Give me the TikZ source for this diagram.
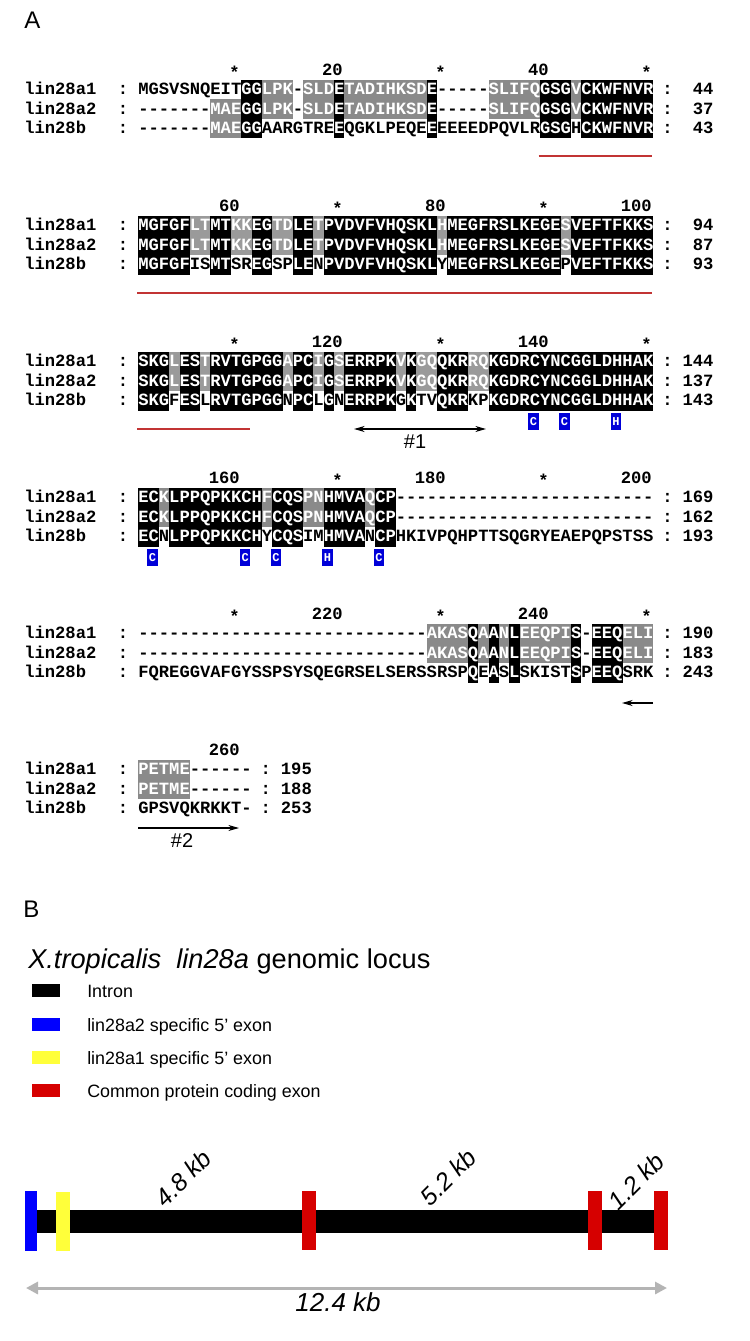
\documentclass[tikz,border=0pt]{standalone}
\usepackage{fontspec}
\setmainfont{Liberation Sans}
\setmonofont{Liberation Mono}
\usetikzlibrary{arrows.meta}
\definecolor{shadeA}{HTML}{8A8A8A}
\definecolor{shadeB}{HTML}{9A9A9A}
\definecolor{domline}{HTML}{C23434}
\definecolor{zinc}{HTML}{0000D8}
\definecolor{exblue}{HTML}{0000FF}
\definecolor{exyellow}{HTML}{FFFF3A}
\definecolor{exred}{HTML}{D60000}
\definecolor{spangrey}{HTML}{B4B4B4}
\def\seqx{137}\def\colw{10.3}
\def\runb{b}\def\rung{g}
\newcommand\hstar{\raisebox{-2pt}{*}}
\tikzset{
  seqtext/.style={font=\ttfamily\bfseries\fontsize{12.875}{14}\selectfont,inner sep=0pt},
  seqrun/.style={seqtext,anchor=base west,outer sep=0pt,text height=11.1pt,text depth=3.6pt},
  zincbox/.style={fill=zinc,text=white,inner sep=0pt,minimum width=7.8pt,minimum height=12.2pt,
    font=\ttfamily\bfseries\fontsize{9}{9}\selectfont},
  motif/.style={line width=0.8pt},
  mtip/.tip={Stealth[length=8pt,width=4.5pt]},
  spantip/.tip={Triangle[length=9pt,width=9pt]},
  kb/.style={font=\itshape\fontsize{18.5}{20}\selectfont,inner sep=0pt}
}
\newcommand\alnhead[2]{%
  \foreach \cc/\tt in {#2}
    \node[seqtext,anchor=base east] at ({\seqx+\cc*\colw},#1+5) {\tt};}
\newcommand\alnrow[4]{%
  \node[seqtext,anchor=base west] at (24,#1+5) {#2};
  \node[seqtext,anchor=base] at (123,#1+5) {:};
  \node[inner sep=0pt,outer sep=0pt,anchor=base west] (r) at (\seqx,#1+5) {};
  \foreach \kind/\txt in {#3}{
    \ifx\kind\runb\def\fc{black}\def\tc{white}\else
      \ifx\kind\rung\def\fc{\gcol}\def\tc{white}\else\def\fc{white}\def\tc{black}\fi\fi
    \node[seqrun,fill=\fc,text=\tc] (r) at (r.base east) {\txt};}
  \node[seqtext,anchor=base] at (\rcolon,#1+5) {:};
  \node[seqtext,anchor=base east] at (\rnum,#1+5) {#4};}
\begin{document}
\begin{tikzpicture}[x=0.75pt,y=-0.75pt]
\fill[white] (0,0) rectangle (749,1341);
\useasboundingbox (0,0) rectangle (749,1341);
\node[anchor=base west,inner sep=0pt,font=\fontsize{18}{18}\selectfont] (labA) at (24,28.5) {A};

\def\gcol{shadeA}\def\rcolon{667.45}\def\rnum{713.8}
\alnhead{70.5}{10/\hstar,20/20,30/\hstar,40/40,50/\hstar}
\alnrow{89.5}{lin28a1}{n/MGSVSNQEIT,b/GG,g/LPK,n/-,g/SLD,b/E,g/TADIHKSD,b/E,n/-----,g/SLIFQ,b/GSG,g/V,b/CKWFNVR}{44}
\alnrow{109.1}{lin28a2}{n/-------,g/MAE,b/GG,g/LPK,n/-,g/SLD,b/E,g/TADIHKSD,b/E,n/-----,g/SLIFQ,b/GSG,g/V,b/CKWFNVR}{37}
\alnrow{128.7}{lin28b}{n/-------,g/MAE,b/GG,n/AARGTRE,b/E,n/QGKLPEQE,b/E,n/EEEEDPQVLR,b/GSG,n/H,b/CKWFNVR}{43}
\draw[domline,line width=1.5pt] ({\seqx+39*\colw},156.5) -- ({\seqx+50*\colw},156.5);

\def\gcol{shadeB}
\alnhead{206.5}{10/60,20/\hstar,30/80,40/\hstar,50/100}
\alnrow{225.5}{lin28a1}{b/MGFGF,g/LT,b/MT,g/KK,b/EG,g/TD,b/LE,g/T,b/PVDVFVHQSKL,g/H,b/MEGFRSLKEGE,g/S,b/VEFTFKKS}{94}
\alnrow{245.1}{lin28a2}{b/MGFGF,g/LT,b/MT,g/KK,b/EG,g/TD,b/LE,g/T,b/PVDVFVHQSKL,g/H,b/MEGFRSLKEGE,g/S,b/VEFTFKKS}{87}
\alnrow{264.7}{lin28b}{b/MGFGF,n/IS,b/MT,n/SR,b/EG,n/SP,b/LE,n/N,b/PVDVFVHQSKL,n/Y,b/MEGFRSLKEGE,n/P,b/VEFTFKKS}{93}
\draw[domline,line width=1.5pt] (\seqx,292.5) -- ({\seqx+50*\colw},292.5);

\alnhead{342.5}{10/\hstar,20/120,30/\hstar,40/140,50/\hstar}
\alnrow{361.5}{lin28a1}{b/SKG,g/L,b/ES,g/T,b/RVTGPGG,g/A,b/PC,g/I,b/G,g/S,b/ERRPK,g/V,b/K,g/GQ,b/QKR,g/RQ,b/KGDRCYNCGGLDHHAK}{144}
\alnrow{381.1}{lin28a2}{b/SKG,g/L,b/ES,g/T,b/RVTGPGG,g/A,b/PC,g/I,b/G,g/S,b/ERRPK,g/V,b/K,g/GQ,b/QKR,g/RQ,b/KGDRCYNCGGLDHHAK}{137}
\alnrow{400.7}{lin28b}{b/SKG,n/F,b/ES,n/L,b/RVTGPGG,n/N,b/PC,n/L,b/G,n/N,b/ERRPK,n/G,b/K,n/TV,b/QKR,n/KP,b/KGDRCYNCGGLDHHAK}{143}
\foreach \cc/\ll in {39/C,42/C,47/H}
  \node[zincbox] at ({\seqx+(\cc-0.5)*\colw},421.5) {\ll};
\draw[domline,line width=1.5pt] (\seqx,428.5) -- ({\seqx+11*\colw},428.5);
\coordinate (m1a) at (354,429);
\coordinate (m1b) at (486,429);
\draw[motif,mtip-mtip] (m1a) -- (m1b);
\node[font=\fontsize{15}{15}\selectfont,inner sep=0pt] (m1) at (415,442) {\#1};

\def\gcol{shadeA}
\alnhead{478.5}{10/160,20/\hstar,30/180,40/\hstar,50/200}
\alnrow{497.5}{lin28a1}{b/EC,g/K,b/LPPQPKKCH,g/F,b/CQS,g/PN,b/HMVA,g/Q,b/CP,n/-------------------------}{169}
\alnrow{517.1}{lin28a2}{b/EC,g/K,b/LPPQPKKCH,g/F,b/CQS,g/PN,b/HMVA,g/Q,b/CP,n/-------------------------}{162}
\alnrow{536.7}{lin28b}{b/EC,n/N,b/LPPQPKKCH,n/Y,b/CQS,n/IM,b/HMVA,n/N,b/CP,n/HKIVPQHPTTSQGRYEAEPQPSTSS}{193}
\foreach \cc/\ll in {2/C,11/C,14/C,19/H,24/C}
  \node[zincbox] at ({\seqx+(\cc-0.5)*\colw},557.5) {\ll};

\alnhead{614.5}{10/\hstar,20/220,30/\hstar,40/240,50/\hstar}
\alnrow{633.5}{lin28a1}{n/----------------------------,g/AKAS,b/Q,g/A,b/A,g/N,b/L,g/EEQPI,b/S,n/-,b/EEQ,g/ELI}{190}
\alnrow{653.1}{lin28a2}{n/----------------------------,g/AKAS,b/Q,g/A,b/A,g/N,b/L,g/EEQPI,b/S,n/-,b/EEQ,g/ELI}{183}
\alnrow{672.7}{lin28b}{n/FQREGGVAFGYSSPSYSQEGRSELSERSSRSP,b/Q,n/E,b/A,n/S,b/L,n/SKIST,b/S,n/P,b/EEQ,n/SRK}{243}
\coordinate (m2a) at (653,703);
\coordinate (m2b) at (622,703);
\draw[motif,-mtip] (m2a) -- (m2b);

\def\rcolon{265.75}\def\rnum{312.1}
\alnhead{750.5}{10/260}
\alnrow{769.5}{lin28a1}{g/PETME,n/------}{195}
\alnrow{789.1}{lin28a2}{g/PETME,n/------}{188}
\alnrow{808.7}{lin28b}{n/GPSVQKRKKT-}{253}
\coordinate (m3a) at (138,828);
\coordinate (m3b) at (239,828);
\draw[motif,-mtip] (m3a) -- (m3b);
\node[font=\fontsize{15}{15}\selectfont,inner sep=0pt] (m2) at (182,841) {\#2};

\node[anchor=base west,inner sep=0pt,font=\fontsize{18}{18}\selectfont] (labB) at (23,917) {B};
\node[anchor=base west,inner sep=0pt,font=\fontsize{20.4}{24}\selectfont] (title) at (28,968)
  {\itshape X.tropicalis\ \ lin28a\upshape\ genomic locus};
\foreach \cl/\yy/\tx in {black/984/Intron,exblue/1018/lin28a2 specific 5’ exon,
    exyellow/1051/lin28a1 specific 5’ exon,exred/1084/Common protein coding exon}{
  \fill[\cl] (32,\yy) rectangle (60,\yy+13);
  \node[anchor=base west,inner sep=0pt,font=\fontsize{13.4}{15}\selectfont] at (87,\yy+13) {\tx};
}

\fill[black] (30,1210) rectangle (660,1233);
\fill[exblue] (25,1191) rectangle (37,1251);
\fill[exyellow] (56,1192) rectangle (70,1251);
\foreach \xx in {302,588,654}
  \fill[exred] (\xx,1191) rectangle (\xx+14,1250);
\node[kb,rotate=45] (k1) at (183,1178) {4.8 kb};
\node[kb,rotate=45] (k2) at (448,1177) {5.2 kb};
\node[kb,rotate=45] (k3) at (636,1181) {1.2 kb};
\coordinate (sa) at (26,1288);
\coordinate (sb) at (667,1288);
\draw[spangrey,line width=2.25pt,spantip-spantip] (sa) -- (sb);
\node[font=\itshape\fontsize{19.5}{20}\selectfont,inner sep=0pt] (tot) at (338,1302) {12.4 kb};
\end{tikzpicture}
\end{document}
